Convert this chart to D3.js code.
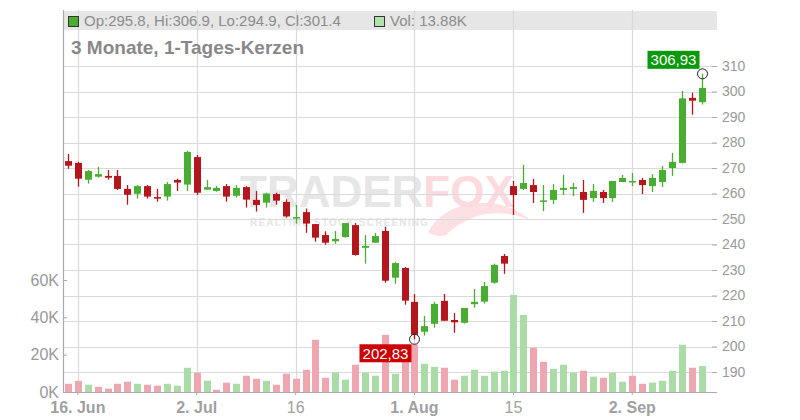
<!DOCTYPE html>
<html><head><meta charset="utf-8">
<script src="https://cdn.jsdelivr.net/npm/d3@7"></script>
<style>body{margin:0;background:#fff;} svg{display:block;font-family:"Liberation Sans",Arial,sans-serif;}</style>
</head><body><svg id="c" width="800" height="420"></svg>
<script>
const dates = ["2025-06-13","2025-06-16","2025-06-17","2025-06-18","2025-06-19","2025-06-20","2025-06-23","2025-06-24","2025-06-25","2025-06-26","2025-06-27","2025-06-30","2025-07-01","2025-07-02","2025-07-03","2025-07-04","2025-07-07","2025-07-08","2025-07-09","2025-07-10","2025-07-11","2025-07-14","2025-07-15","2025-07-16","2025-07-17","2025-07-18","2025-07-21","2025-07-22","2025-07-23","2025-07-24","2025-07-25","2025-07-28","2025-07-29","2025-07-30","2025-07-31","2025-08-01","2025-08-04","2025-08-05","2025-08-06","2025-08-07","2025-08-08","2025-08-11","2025-08-12","2025-08-13","2025-08-14","2025-08-15","2025-08-18","2025-08-19","2025-08-20","2025-08-21","2025-08-22","2025-08-25","2025-08-26","2025-08-27","2025-08-28","2025-08-29","2025-09-01","2025-09-02","2025-09-03","2025-09-04","2025-09-05","2025-09-08","2025-09-09","2025-09-10","2025-09-11"];
const open  = [272.7,272.0,265.4,266.6,266.9,266.9,261.8,259.9,262.9,258.6,258.8,265.3,263.5,274.3,261.5,261.0,262.9,259.1,262.5,257.5,256.4,259.8,256.7,250.5,252.7,248.0,243.7,241.3,242.9,247.6,238.7,240.7,245.3,227.0,230.8,217.5,205.8,208.9,217.9,210.4,209.3,216.6,217.6,225.0,235.5,262.9,261.8,263.3,257.1,257.5,261.4,261.8,260.6,258.2,260.6,258.2,264.5,264.5,265.3,262.9,264.5,270.0,272.0,297.5,295.8];
const high  = [275.5,272.4,269.2,270.4,269.2,269.2,263.3,263.3,263.3,261.8,264.5,265.8,276.7,275.1,265.3,263.0,263.7,263.3,262.9,261.0,260.3,260.3,257.7,255.5,254.1,248.0,245.2,245.3,248.4,248.4,243.7,244.5,247.0,233.1,231.2,220.6,212.0,217.5,220.6,213.1,215.1,222.5,225.3,232.5,236.3,264.9,271.2,265.7,263.3,263.7,267.3,264.1,265.3,263.7,261.4,264.9,267.3,268.0,266.1,267.6,270.8,275.9,300.2,299.5,306.93];
const low   = [269.7,262.7,263.9,266.2,265.4,261.4,255.6,258.0,258.0,256.8,257.2,261.0,261.0,259.5,261.5,260.7,256.8,258.4,254.5,252.9,254.5,255.6,250.5,248.2,244.6,241.1,239.9,240.3,242.7,235.6,232.5,240.7,225.0,224.6,216.4,202.83,204.3,207.4,210.1,205.4,209.0,215.2,216.8,224.6,228.5,251.6,261.4,256.3,253.1,255.9,259.4,259.0,252.4,256.7,256.3,256.7,264.5,262.9,259.8,260.6,262.5,266.9,271.8,290.9,294.9];
const close = [270.9,265.8,268.8,267.6,266.2,261.8,259.5,262.9,258.8,258.0,263.7,264.3,276.3,260.3,262.5,262.2,258.8,262.2,257.6,255.5,260.0,257.2,251.0,250.8,248.2,242.7,240.7,242.2,248.4,235.9,239.4,243.3,225.8,232.7,218.0,204.6,208.0,216.7,210.1,209.5,215.1,217.5,223.7,232.0,232.5,259.4,264.1,260.6,257.3,261.4,262.2,262.5,257.5,261.0,258.2,264.9,266.1,264.9,263.3,266.1,269.2,272.4,297.3,296.4,301.4];
const volumeK = [4.4,6.0,3.9,2.8,1.8,4.4,5.5,4.4,3.9,3.4,4.4,3.4,13.0,10.3,6.0,1.2,5.0,4.4,8.7,7.1,6.0,3.9,9.8,7.1,11.9,28.0,7.6,10.3,6.6,14.6,10.3,8.7,30.6,9.8,20.0,25.5,15.1,13.5,13.0,6.6,8.7,11.9,8.7,10.9,11.4,52.0,41.3,23.7,16.2,12.4,14.6,10.3,11.4,8.2,7.6,10.3,5.5,8.7,4.4,5.0,6.0,11.4,25.3,13.0,13.88];
const priceTicks = [190,200,210,220,230,240,250,260,270,280,290,300,310];
const volumeTicks = [0,20,40,60];
const dateTicks = ["2025-06-16","2025-07-02","2025-07-16","2025-08-01","2025-08-15","2025-09-02"];
const dateTickLabels = ["16. Jun","2. Jul","16","1. Aug","15","2. Sep"];
const dateTickBold = [true,true,false,true,false,true];
const titleText = "3 Monate, 1-Tages-Kerzen";

const svg = d3.select("#c");
const L = 63, R = 717, T = 10, B = 392;
const x = d3.scaleBand().domain(dates).range([63, 706.5]).padding(0);
const cx = d => Math.round(x(d) + x.bandwidth()/2);
const y = d3.scaleLinear().domain([190,310]).range([372,66]);
const yv = d3.scaleLinear().domain([0,60]).range([392,280]);

const RED = "#b3161c", GREEN = "#48ad30", VRED = "#eea6b0", VGREEN = "#abdca8";
const GRID = "#dadada", AX = "#aaaaaa", TXT = "#999999";

// watermark
const wm = svg.append("g");
wm.append("path")
  .attr("d","M428,232 C438,214 458,202 486,203 C506,204 520,211 530,220 C516,214 500,212 486,214 C470,217 456,225 446,235 C440,237 433,236 428,232 Z M442,223 C454,214 470,209 486,209 C474,214 462,220 452,229 Z")
  .attr("fill","#fde0e3");
const wt = wm.append("text").attr("x",240).attr("y",207).attr("font-size",44).attr("font-weight","bold");
wt.append("tspan").attr("fill","#e6e6e6").text("TRADER");
wt.append("tspan").attr("fill","#fcdadd").text("FOX");
wm.append("text").attr("x",250).attr("y",226).attr("font-size",10).attr("font-weight","bold")
  .attr("fill","#e6e6e6").attr("textLength",178).attr("lengthAdjust","spacing").text("REALTIME STOCK SCREENING");

// header band
svg.append("rect").attr("x",L).attr("y",11).attr("width",R-L).attr("height",19).attr("fill","#e6e6e6");

// grid
svg.append("g").selectAll("line").data(priceTicks).join("line")
  .attr("x1",L).attr("x2",R).attr("y1",d=>Math.round(y(d))+0.5).attr("y2",d=>Math.round(y(d))+0.5)
  .attr("stroke",GRID).attr("stroke-width",1.2);
svg.append("g").selectAll("line").data(dateTicks).join("line")
  .attr("x1",d=>cx(d)+0.5).attr("x2",d=>cx(d)+0.5).attr("y1",T).attr("y2",B)
  .attr("stroke",GRID).attr("stroke-width",1.2);

// header texts
const last = dates.length-1;
svg.append("rect").attr("x",68.5).attr("y",16.5).attr("width",10).attr("height",10).attr("fill","#4aad2e").attr("stroke","#333");
svg.append("text").attr("x",84).attr("y",26).attr("font-size",15).attr("fill","#8c8c8c")
  .text(`Op:${open[last].toFixed(1)}, Hi:${high[last].toFixed(1)}, Lo:${low[last].toFixed(1)}, Cl:${close[last].toFixed(1)}`);
svg.append("rect").attr("x",374.5).attr("y",16.5).attr("width",10).attr("height",10).attr("fill","#b2e2ac").attr("stroke","#333");
svg.append("text").attr("x",390).attr("y",26).attr("font-size",15).attr("fill","#8c8c8c")
  .text(`Vol: ${volumeK[last].toFixed(2)}K`);
svg.append("text").attr("x",71).attr("y",54).attr("font-size",19).attr("font-weight","bold").attr("fill","#888888").text(titleText);

// volume bars
svg.append("g").selectAll("rect").data(dates).join("rect")
  .attr("x",d=>cx(d)-3).attr("width",7)
  .attr("y",(d,i)=>yv(volumeK[i])).attr("height",(d,i)=>yv(0)-yv(volumeK[i]))
  .attr("fill",(d,i)=>{const up = i===0 ? close[i]>=open[i] : close[i]>=close[i-1]; return up?VGREEN:VRED;});

// candles
const cg = svg.append("g");
cg.selectAll("line").data(dates).join("line")
  .attr("x1",d=>cx(d)+0.5).attr("x2",d=>cx(d)+0.5)
  .attr("y1",(d,i)=>y(high[i])).attr("y2",(d,i)=>y(low[i]))
  .attr("stroke",(d,i)=>close[i]>=open[i]?GREEN:RED).attr("stroke-width",1.3);
cg.selectAll("rect").data(dates).join("rect")
  .attr("x",d=>cx(d)-3).attr("width",7)
  .attr("y",(d,i)=>y(Math.max(open[i],close[i])))
  .attr("height",(d,i)=>Math.max(1.5, Math.abs(y(open[i])-y(close[i]))))
  .attr("fill",(d,i)=>close[i]>=open[i]?GREEN:RED);

// axes
const ra = svg.append("g").attr("transform",`translate(712,0)`)
  .call(d3.axisRight(y).tickValues(priceTicks).tickSize(5).tickPadding(5).tickFormat(d3.format("d")));
ra.select(".domain").remove();
ra.selectAll(".tick line").attr("stroke",AX);
ra.selectAll("text").attr("font-size",14).attr("fill",TXT).attr("font-family","Liberation Sans, Arial, sans-serif");

const la = svg.append("g").attr("transform",`translate(${L},0)`)
  .call(d3.axisLeft(yv).tickValues(volumeTicks).tickSizeInner(-4).tickSizeOuter(0).tickPadding(4).tickFormat(d=>d+"K"));
la.select(".domain").remove();
la.selectAll(".tick line").attr("stroke",AX);
la.selectAll("text").attr("font-size",16).attr("fill",TXT).attr("font-family","Liberation Sans, Arial, sans-serif");

const ba = svg.append("g").attr("transform",`translate(0,${B})`)
  .call(d3.axisBottom(x).tickValues(dateTicks).tickSize(3).tickPadding(6.5).tickFormat((d,i)=>dateTickLabels[i]));
ba.select(".domain").remove();
ba.selectAll(".tick line").attr("stroke",AX);
ba.selectAll("text").attr("font-size",16).attr("fill","#a0a0a0").attr("font-family","Liberation Sans, Arial, sans-serif")
  .attr("font-weight",(d,i)=>dateTickBold[i]?"bold":"normal");

svg.append("line").attr("x1",L+0.5).attr("x2",L+0.5).attr("y1",T).attr("y2",B+1).attr("stroke",AX).attr("stroke-width",1.2);
svg.append("line").attr("x1",L).attr("x2",R).attr("y1",B+0.5).attr("y2",B+0.5).attr("stroke",AX).attr("stroke-width",1.2);

// high / low markers
const iHi = d3.maxIndex(high), iLo = d3.minIndex(low);
function marker(i, val, fill, above){
  const px = cx(dates[i])+0.5, py = y(val);
  svg.append("circle").attr("cx",px).attr("cy",py).attr("r",5).attr("fill","none").attr("stroke","#222").attr("stroke-width",1);
  const label = val.toFixed(2).replace(".",",");
  const w = 52, h = 18;
  const bx = px - 3 - w, by = above ? py - 5 - h : py + 5;
  svg.append("rect").attr("x",bx).attr("y",by).attr("width",w).attr("height",h).attr("fill",fill);
  svg.append("text").attr("x",bx+w/2).attr("y",by+h/2).attr("text-anchor","middle").attr("dominant-baseline","central")
    .attr("font-size",15).attr("fill","#fff").text(label);
}
marker(iHi, high[iHi], "#0a990a", true);
marker(iLo, low[iLo], "#cc0000", false);
</script></body></html>
